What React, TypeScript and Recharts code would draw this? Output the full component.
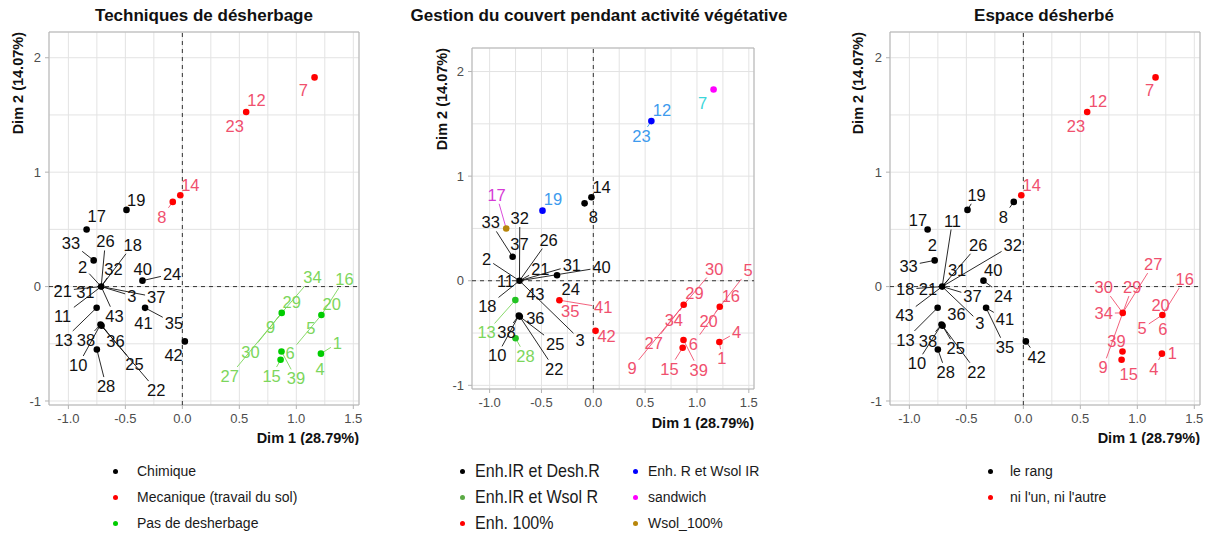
import React from 'react';
import {
  ScatterChart,
  Scatter,
  XAxis,
  YAxis,
  CartesianGrid,
  ReferenceLine,
  ReferenceArea,
  Label,
} from 'recharts';

const FONT = 'Arial, "Liberation Sans", Helvetica, sans-serif';

// Coordonnées des individus (ACM) : Dim 1 / Dim 2
const pointKeys = ['P7', 'P12', 'P14', 'P8', 'P19', 'P17', 'P33', 'C', 'P24', 'P41', 'P13', 'P38a', 'P38b', 'P10', 'P42', 'P29', 'P20', 'P6', 'P15', 'P1'];
const dim1Values = [1.16, 0.56, -0.018, -0.084, -0.49, -0.84, -0.778, -0.712, -0.35, -0.327, -0.752, -0.718, -0.709, -0.75, 0.022, 0.872, 1.22, 0.87, 0.862, 1.216];
const dim2Values = [1.828, 1.526, 0.798, 0.74, 0.67, 0.499, 0.229, 0, 0.052, -0.186, -0.185, -0.332, -0.343, -0.55, -0.479, -0.23, -0.248, -0.567, -0.64, -0.586];

// Axes
const xDomain: [number, number] = [-1.17, 1.55];
const yDomain: [number, number] = [-1.035, 2.225];
const xTicks = [-1, -0.75, -0.5, -0.25, 0, 0.25, 0.5, 0.75, 1, 1.25, 1.5];
const xMajor = [-1, -0.5, 0, 0.5, 1, 1.5];
const yTicks = [-1, -0.5, 0, 0.5, 1, 1.5, 2];
const yMajor = [-1, 0, 1, 2];

// Groupes — Techniques de désherbage
const chimiquePts = ['P17', 'P19', 'P33', 'C', 'P24', 'P41', 'P13', 'P38a', 'P38b', 'P10', 'P42'];
const mecaniquePts = ['P7', 'P12', 'P14', 'P8'];
const pasDesherbagePts = ['P29', 'P20', 'P6', 'P15', 'P1'];

// Groupes — Gestion du couvert
const enhDeshPts = ['P14', 'P8', 'P33', 'C', 'P24', 'P38a', 'P38b'];
const enhWsolRPts = ['P13', 'P10'];
const enh100Pts = ['P41', 'P42', 'P29', 'P20', 'P6', 'P15', 'P1'];
const enhRWsolIRPts = ['P19', 'P12'];
const sandwichPts = ['P7'];
const wsol100Pts = ['P17'];

// Groupes — Espace désherbé
const leRangPts = ['P8', 'P19', 'P17', 'P33', 'C', 'P24', 'P41', 'P13', 'P38a', 'P38b', 'P10', 'P42'];
const niUnPts = ['P14', 'P12', 'P7', 'P29', 'P20', 'P6', 'P15', 'P1'];

const labelColors: Record<string, string> = {
  k: '#111111',
  r: '#F0506E',
  g: '#7CD65C',
  b: '#3D9BEE',
  m: '#D63AD6',
  c: '#3BD6DA',
};

// Étiquettes repoussées : [texte, point, Dim1 étiquette, Dim2 étiquette, couleur]
type Lab = [string, string, number, number, string];

const labels1: Lab[] = [
  ['7', 'P7', 1.062, 1.72, 'r'], ['12', 'P12', 0.651, 1.633, 'r'], ['23', 'P12', 0.46, 1.4, 'r'],
  ['14', 'P14', 0.07, 0.89, 'r'], ['8', 'P8', -0.18, 0.61, 'r'],
  ['19', 'P19', -0.405, 0.76, 'k'], ['17', 'P17', -0.752, 0.62, 'k'], ['33', 'P33', -0.977, 0.385, 'k'],
  ['26', 'C', -0.675, 0.394, 'k'], ['18', 'C', -0.435, 0.365, 'k'], ['2', 'C', -0.875, 0.175, 'k'],
  ['32', 'C', -0.605, 0.155, 'k'], ['40', 'P24', -0.347, 0.155, 'k'], ['24', 'P24', -0.09, 0.111, 'k'],
  ['21', 'C', -1.05, -0.035, 'k'], ['31', 'C', -0.851, -0.044, 'k'], ['3', 'C', -0.444, -0.081, 'k'],
  ['37', 'C', -0.229, -0.093, 'k'], ['11', 'C', -1.05, -0.256, 'k'], ['43', 'C', -0.596, -0.254, 'k'],
  ['41', 'P41', -0.341, -0.315, 'k'], ['35', 'P41', -0.074, -0.32, 'k'], ['13', 'P13', -1.042, -0.466, 'k'],
  ['38', 'P38a', -0.845, -0.466, 'k'], ['36', 'P38b', -0.587, -0.472, 'k'], ['10', 'P38a', -0.913, -0.685, 'k'],
  ['25', 'P38b', -0.42, -0.679, 'k'], ['28', 'P10', -0.669, -0.869, 'k'], ['22', 'P38b', -0.229, -0.904, 'k'],
  ['42', 'P42', -0.077, -0.598, 'k'],
  ['34', 'P29', 1.141, 0.082, 'g'], ['16', 'P20', 1.423, 0.065, 'g'], ['29', 'P29', 0.959, -0.137, 'g'],
  ['20', 'P20', 1.311, -0.151, 'g'], ['9', 'P29', 0.775, -0.35, 'g'], ['5', 'P20', 1.127, -0.364, 'g'],
  ['1', 'P1', 1.361, -0.495, 'g'], ['30', 'P29', 0.598, -0.569, 'g'], ['6', 'P20', 0.945, -0.577, 'g'],
  ['4', 'P1', 1.209, -0.723, 'g'], ['27', 'P29', 0.416, -0.781, 'g'], ['15', 'P15', 0.783, -0.781, 'g'],
  ['39', 'P6', 0.997, -0.802, 'g'],
];

const labels2: Lab[] = [
  ['7', 'P7', 1.055, 1.697, 'c'], ['12', 'P12', 0.662, 1.633, 'b'], ['23', 'P12', 0.464, 1.385, 'b'],
  ['14', 'P14', 0.08, 0.9, 'k'], ['8', 'P8', 0.0, 0.605, 'k'], ['19', 'P19', -0.389, 0.78, 'b'],
  ['17', 'P17', -0.933, 0.821, 'm'], ['33', 'P33', -0.99, 0.557, 'k'], ['32', 'C', -0.709, 0.599, 'k'],
  ['37', 'P33', -0.712, 0.353, 'k'], ['26', 'C', -0.431, 0.392, 'k'], ['2', 'C', -1.029, 0.207, 'k'],
  ['21', 'C', -0.511, 0.112, 'k'], ['31', 'C', -0.207, 0.146, 'k'], ['40', 'C', 0.08, 0.127, 'k'],
  ['24', 'P24', -0.217, -0.076, 'k'], ['11', 'C', -0.847, 0.0, 'k'], ['43', 'C', -0.559, -0.127, 'k'],
  ['18', 'C', -1.022, -0.245, 'k'], ['41', 'P41', 0.096, -0.255, 'r'], ['35', 'P41', -0.223, -0.293, 'r'],
  ['42', 'P42', 0.128, -0.532, 'r'], ['13', 'P13', -1.029, -0.494, 'g'], ['38', 'P38a', -0.837, -0.49, 'k'],
  ['36', 'P38b', -0.559, -0.356, 'k'], ['10', 'P38a', -0.927, -0.713, 'k'], ['28', 'P10', -0.655, -0.716, 'g'],
  ['25', 'P38b', -0.367, -0.602, 'k'], ['3', 'C', -0.128, -0.563, 'k'], ['22', 'P38b', -0.377, -0.84, 'k'],
  ['30', 'P29', 1.167, 0.115, 'r'], ['5', 'P20', 1.493, 0.098, 'r'], ['29', 'P29', 0.975, -0.118, 'r'],
  ['16', 'P20', 1.327, -0.143, 'r'], ['34', 'P29', 0.777, -0.373, 'r'], ['20', 'P20', 1.112, -0.389, 'r'],
  ['27', 'P29', 0.582, -0.595, 'r'], ['9', 'P29', 0.374, -0.834, 'r'], ['6', 'P20', 0.965, -0.602, 'r'],
  ['4', 'P1', 1.381, -0.494, 'r'], ['1', 'P1', 1.241, -0.739, 'r'], ['15', 'P15', 0.735, -0.84, 'r'],
  ['39', 'P6', 1.016, -0.85, 'r'],
];

const labels3: Lab[] = [
  ['7', 'P7', 1.107, 1.72, 'r'], ['12', 'P12', 0.655, 1.625, 'r'], ['23', 'P12', 0.461, 1.4, 'r'],
  ['14', 'P14', 0.074, 0.89, 'r'], ['19', 'P19', -0.41, 0.802, 'k'], ['8', 'P8', -0.176, 0.612, 'k'],
  ['17', 'P17', -0.925, 0.583, 'k'], ['11', 'C', -0.622, 0.577, 'k'], ['26', 'C', -0.396, 0.365, 'k'],
  ['32', 'C', -0.093, 0.365, 'k'], ['2', 'P33', -0.798, 0.365, 'k'], ['33', 'P33', -1.007, 0.184, 'k'],
  ['31', 'C', -0.581, 0.146, 'k'], ['40', 'P24', -0.264, 0.146, 'k'], ['18', 'C', -1.036, -0.023, 'k'],
  ['21', 'C', -0.837, -0.023, 'k'], ['37', 'C', -0.446, -0.079, 'k'], ['24', 'P24', -0.176, -0.079, 'k'],
  ['43', 'C', -1.042, -0.248, 'k'], ['36', 'P38b', -0.587, -0.239, 'k'], ['3', 'C', -0.381, -0.315, 'k'],
  ['41', 'P41', -0.161, -0.283, 'k'], ['13', 'P13', -1.034, -0.466, 'k'], ['38', 'P38a', -0.837, -0.472, 'k'],
  ['25', 'P38b', -0.593, -0.539, 'k'], ['35', 'P41', -0.161, -0.525, 'k'], ['42', 'P42', 0.118, -0.612, 'k'],
  ['10', 'P38a', -0.934, -0.67, 'k'], ['28', 'P10', -0.681, -0.744, 'k'], ['22', 'P38b', -0.411, -0.744, 'k'],
  ['27', 'P29', 1.14, 0.196, 'r'], ['16', 'P20', 1.416, 0.065, 'r'], ['30', 'P29', 0.705, -0.005, 'r'],
  ['29', 'P29', 0.955, -0.005, 'r'], ['20', 'P20', 1.204, -0.16, 'r'], ['34', 'P29', 0.705, -0.233, 'r'],
  ['5', 'P20', 1.043, -0.364, 'r'], ['6', 'P20', 1.225, -0.373, 'r'], ['39', 'P6', 0.817, -0.472, 'r'],
  ['1', 'P1', 1.307, -0.583, 'r'], ['9', 'P29', 0.7, -0.705, 'r'], ['4', 'P1', 1.145, -0.72, 'r'],
  ['15', 'P15', 0.925, -0.764, 'r'],
];

// Légendes
const legend1Names = ['Chimique', 'Mecanique (travail du sol)', 'Pas de desherbage'];
const legend2LeftNames = ['Enh.IR et Desh.R', 'Enh.IR et Wsol R', 'Enh. 100%'];
const legend2RightNames = ['Enh. R et Wsol IR', 'sandwich', 'Wsol_100%'];
const legend3Names = ['le rang', "ni l'un, ni l'autre"];

const LABEL_FS = 16.5;

const pointOf = (key: string) => {
  const i = pointKeys.indexOf(key);
  return { x: dim1Values[i], y: dim2Values[i] };
};

// segment façon ggrepel : du point jusqu'au bord de la boîte de l'étiquette
function segmentFor(l: Lab, ppuX: number, ppuY: number) {
  const [text, key, lx, ly] = l;
  const p = pointOf(key);
  const dx = (p.x - lx) * ppuX;
  const dy = (p.y - ly) * ppuY;
  const hw = (text.length * 0.556 * LABEL_FS) / 2 + 2;
  const hh = (0.72 * LABEL_FS) / 2 + 3;
  const t = Math.min(
    dx !== 0 ? hw / Math.abs(dx) : Infinity,
    dy !== 0 ? hh / Math.abs(dy) : Infinity
  );
  if (t >= 1) return null;
  if (Math.hypot(dx, dy) * (1 - t) < 7) return null;
  return [
    { x: lx + (p.x - lx) * t, y: ly + (p.y - ly) * t },
    { x: p.x, y: p.y },
  ];
}

const Dot = (props: any) => {
  const { cx, cy, fill } = props;
  if (cx == null || cy == null) return null;
  return <circle cx={cx} cy={cy} r={3.3} fill={fill} />;
};

const LabelText = (props: any) => {
  const { cx, cy, payload } = props;
  if (cx == null || cy == null) return null;
  return (
    <text
      x={cx}
      y={cy}
      textAnchor="middle"
      dominantBaseline="central"
      fontSize={LABEL_FS}
      fontFamily={FONT}
      fill={payload.color}
    >
      {payload.text}
    </text>
  );
};

const XTick = (props: any) => {
  const { x, y, payload } = props;
  if (!xMajor.includes(payload.value)) return null;
  return (
    <g>
      <line x1={x} x2={x} y1={y - 9} y2={y - 5} stroke="#B3B3B3" />
      <text x={x} y={y} dy="0.71em" textAnchor="middle" fontSize={13} fontFamily={FONT} fill="#4D4D4D">
        {payload.value.toFixed(1)}
      </text>
    </g>
  );
};

const YTick = (props: any) => {
  const { x, y, payload } = props;
  if (!yMajor.includes(payload.value)) return null;
  return (
    <g>
      <line x1={x + 4} x2={x + 8} y1={y} y2={y} stroke="#B3B3B3" />
      <text x={x} y={y} dy="0.355em" textAnchor="end" fontSize={13} fontFamily={FONT} fill="#4D4D4D">
        {payload.value}
      </text>
    </g>
  );
};

interface Group {
  name: string;
  color: string;
  points: string[];
}

interface PanelProps {
  left: number;
  width: number;
  height: number;
  margin: { top: number; right: number; bottom: number; left: number };
  yAxisWidth: number;
  xAxisHeight: number;
  yTitleX: number;
  xTitleY: number;
  title: string;
  titleX: number;
  groups: Group[];
  labels: Lab[];
}

function Panel(cfg: PanelProps) {
  const { left, width, height, margin, yAxisWidth, xAxisHeight, yTitleX, xTitleY, groups, labels } = cfg;
  const plotLeft = margin.left + yAxisWidth;
  const plotRight = width - margin.right;
  const plotW = plotRight - plotLeft;
  const plotH = height - margin.top - margin.bottom - xAxisHeight;
  const ppuX = plotW / (xDomain[1] - xDomain[0]);
  const ppuY = plotH / (yDomain[1] - yDomain[0]);

  const labelData = labels.map(([text, , lx, ly, c]) => ({ x: lx, y: ly, text, color: labelColors[c] }));
  const segs = labels
    .map((l) => ({ seg: segmentFor(l, ppuX, ppuY), color: labelColors[l[4]] }))
    .filter((s) => s.seg);

  return (
    <>
      <div
        style={{
          position: 'absolute',
          left: cfg.titleX - 250,
          width: 500,
          top: 6,
          textAlign: 'center',
          fontFamily: FONT,
          fontWeight: 'bold',
          fontSize: 17,
          lineHeight: '20px',
          color: '#111',
        }}
      >
        {cfg.title}
      </div>
      <div style={{ position: 'absolute', left, top: 0 }}>
        <ScatterChart width={width} height={height} margin={margin}>
          <CartesianGrid stroke="#E3E3E3" />
          <XAxis
            type="number"
            dataKey="x"
            domain={xDomain}
            ticks={xTicks}
            interval={0}
            allowDataOverflow
            height={xAxisHeight}
            tickSize={4}
            tickMargin={5}
            tickLine={false}
            axisLine={false}
            tick={<XTick />}
          >
            <Label
              content={() => (
                <text
                  x={plotRight}
                  y={xTitleY}
                  textAnchor="end"
                  dominantBaseline="central"
                  fontSize={14.5}
                  fontWeight="bold"
                  fontFamily={FONT}
                  fill="#111"
                >
                  Dim 1 (28.79%)
                </text>
              )}
            />
          </XAxis>
          <YAxis
            type="number"
            dataKey="y"
            domain={yDomain}
            ticks={yTicks}
            interval={0}
            allowDataOverflow
            width={yAxisWidth}
            tickSize={4}
            tickMargin={4}
            tickLine={false}
            axisLine={false}
            tick={<YTick />}
          >
            <Label
              content={() => (
                <text
                  transform={`translate(${yTitleX},${margin.top}) rotate(-90)`}
                  textAnchor="end"
                  dominantBaseline="central"
                  fontSize={14.5}
                  fontWeight="bold"
                  fontFamily={FONT}
                  fill="#111"
                >
                  Dim 2 (14.07%)
                </text>
              )}
            />
          </YAxis>
          <ReferenceArea
            x1={xDomain[0]}
            x2={xDomain[1]}
            y1={yDomain[0]}
            y2={yDomain[1]}
            fill="none"
            stroke="#B3B3B3"
            strokeWidth={1}
            ifOverflow="visible"
          />
          <ReferenceLine x={0} stroke="#333" strokeDasharray="4 4" />
          <ReferenceLine y={0} stroke="#333" strokeDasharray="4 4" />
          {groups.map((g) => (
            <Scatter
              key={g.name}
              name={g.name}
              data={g.points.map(pointOf)}
              fill={g.color}
              shape={<Dot />}
              isAnimationActive={false}
            />
          ))}
          {segs.map((s, i) => (
            <ReferenceLine
              key={`seg-${i}`}
              segment={s.seg as any}
              stroke={s.color}
              strokeWidth={0.9}
              ifOverflow="visible"
            />
          ))}
          <Scatter data={labelData} shape={<LabelText />} isAnimationActive={false} />
        </ScatterChart>
      </div>
    </>
  );
}

function LegendColumn({
  names,
  colors,
  dotX,
  textX,
  fontSize,
  squeeze = 1,
}: {
  names: string[];
  colors: string[];
  dotX: number;
  textX: number;
  fontSize: number;
  squeeze?: number;
}) {
  const rows = [471, 497, 523];
  return (
    <>
      {names.map((n, i) => (
        <React.Fragment key={n}>
          <div
            style={{
              position: 'absolute',
              left: dotX - 2.5,
              top: rows[i] - 2.5,
              width: 5,
              height: 5,
              borderRadius: '50%',
              background: colors[i],
            }}
          />
          <div
            style={{
              position: 'absolute',
              left: textX,
              top: rows[i] - 12,
              height: 24,
              lineHeight: '24px',
              fontFamily: FONT,
              fontSize,
              color: '#1A1A1A',
              whiteSpace: 'nowrap',
              transform: `scaleX(${squeeze})`,
              transformOrigin: 'left center',
            }}
          >
            {n}
          </div>
        </React.Fragment>
      ))}
    </>
  );
}

export default function App() {
  const groups1: Group[] = [
    { name: 'Chimique', color: '#000000', points: chimiquePts },
    { name: 'Mecanique', color: '#FF0000', points: mecaniquePts },
    { name: 'Pas de desherbage', color: '#00CD00', points: pasDesherbagePts },
  ];
  const groups2: Group[] = [
    { name: 'Enh.IR et Desh.R', color: '#000000', points: enhDeshPts },
    { name: 'Enh.IR et Wsol R', color: '#22C322', points: enhWsolRPts },
    { name: 'Enh. 100%', color: '#FF0000', points: enh100Pts },
    { name: 'Enh. R et Wsol IR', color: '#0000FF', points: enhRWsolIRPts },
    { name: 'sandwich', color: '#FF00FF', points: sandwichPts },
    { name: 'Wsol_100%', color: '#B8860B', points: wsol100Pts },
  ];
  const groups3: Group[] = [
    { name: 'le rang', color: '#000000', points: leRangPts },
    { name: "ni l'un, ni l'autre", color: '#FF0000', points: niUnPts },
  ];

  return (
    <div
      style={{
        position: 'absolute',
        left: 0,
        top: 0,
        width: 1205,
        height: 533,
        background: '#fff',
        overflow: 'hidden',
      }}
    >
      <Panel
        left={0}
        width={400}
        height={445}
        margin={{ top: 32, right: 41, bottom: 0, left: 0 }}
        yAxisWidth={49}
        xAxisHeight={40}
        yTitleX={18}
        xTitleY={438}
        title="Techniques de désherbage"
        titleX={204}
        groups={groups1}
        labels={labels1}
      />
      <Panel
        left={400}
        width={400}
        height={430}
        margin={{ top: 48, right: 46, bottom: 0, left: 0 }}
        yAxisWidth={72}
        xAxisHeight={41}
        yTitleX={42}
        xTitleY={423}
        title="Gestion du couvert pendant activité végétative"
        titleX={599}
        groups={groups2}
        labels={labels2}
      />
      <Panel
        left={810}
        width={395}
        height={445}
        margin={{ top: 32, right: 5, bottom: 0, left: 0 }}
        yAxisWidth={80}
        xAxisHeight={40}
        yTitleX={48}
        xTitleY={438}
        title="Espace désherbé"
        titleX={1044}
        groups={groups3}
        labels={labels3}
      />
      <LegendColumn names={legend1Names} colors={['#000000', '#FF0000', '#00CD00']} dotX={115} textX={137} fontSize={14} />
      <LegendColumn names={legend2LeftNames} colors={['#000000', '#5BAA45', '#FF0000']} dotX={462} textX={475} fontSize={19} squeeze={0.845} />
      <LegendColumn names={legend2RightNames} colors={['#0000FF', '#FF00FF', '#B8860B']} dotX={635} textX={648} fontSize={14} />
      <LegendColumn names={legend3Names} colors={['#000000', '#FF0000']} dotX={990} textX={1010} fontSize={14} />
    </div>
  );
}
